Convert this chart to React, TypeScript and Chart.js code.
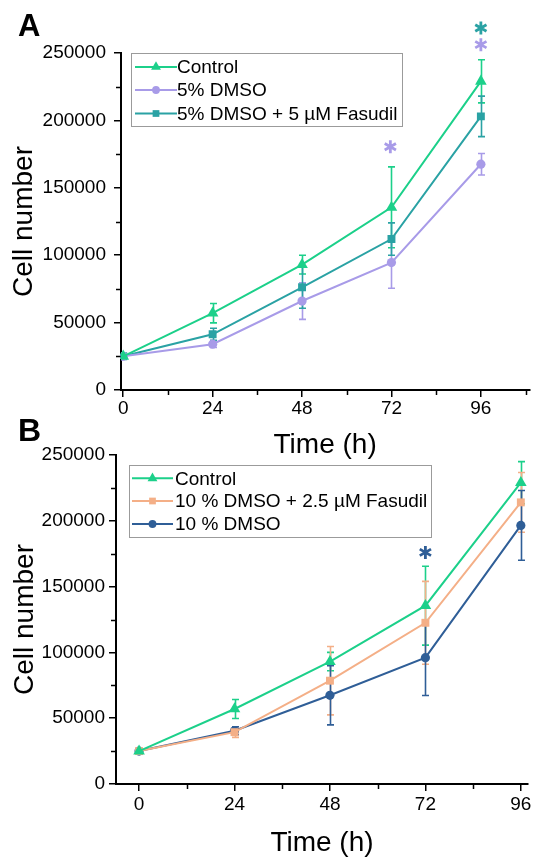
import React, { useEffect, useRef } from 'react';
import { Chart, registerables } from 'chart.js';

Chart.register(...registerables);

const FONT = "'Liberation Sans', Arial, Helvetica, sans-serif";

// ---------- data ----------
const TIMES = [0, 24, 48, 72, 96];
const X_TICKS = [0, 24, 48, 72, 96];
const X_MINOR_TICKS = [12, 36, 60, 84, 108];
const Y_TICKS = [0, 50000, 100000, 150000, 200000, 250000];
const Y_MINOR_TICKS = [25000, 75000, 125000, 175000, 225000];

const CONTROL = [25000, 57000, 93000, 135500, 229000];
const CONTROL_SD = [1500, 7200, 7000, 30000, 16000];
const DMSO5 = [25000, 34000, 66000, 94500, 167500];
const DMSO5_SD = [1000, 2500, 13600, 19000, 8000];
const DMSO5_FAS5 = [25000, 41300, 76200, 112000, 203000];
const DMSO5_FAS5_SD = [1000, 4500, 15500, 12000, 15000];
const DMSO10_FAS25 = [25000, 39400, 78500, 122500, 214000];
const DMSO10_FAS25_SD = [1500, 4000, 26000, 31500, 22700];
const DMSO10 = [25000, 40500, 67400, 96000, 196500];
const DMSO10_SD = [1000, 3000, 22500, 28700, 26500];

const LABELS_A = ['Control', '5% DMSO', '5% DMSO + 5 µM Fasudil'];
const LABELS_B = ['Control', '10 % DMSO + 2.5 µM Fasudil', '10 % DMSO'];

const STARS_A_X = [71.7, 96, 96];
const STARS_A_Y = [180500, 268500, 256200];
const STARS_B_X = [72];
const STARS_B_Y = [176000];

// ---------- styles ----------
const GREEN = '#1CD08A';
const LAVENDER = '#A89BE8';
const TEAL = '#2AA2A4';
const ORANGE = '#F4AF87';
const NAVY = '#2F5E97';

function drawMarker(ctx: CanvasRenderingContext2D, style: string, x: number, y: number, r: number, color: string) {
  ctx.save();
  ctx.fillStyle = color;
  ctx.beginPath();
  if (style === 'circle') {
    ctx.arc(x, y, r, 0, Math.PI * 2);
  } else if (style === 'rect') {
    const s = Math.SQRT1_2 * r;
    ctx.rect(x - s, y - s, 2 * s, 2 * s);
  } else {
    let rad = 0;
    ctx.moveTo(x + Math.sin(rad) * r, y - Math.cos(rad) * r);
    rad += (2 * Math.PI) / 3;
    ctx.lineTo(x + Math.sin(rad) * r, y - Math.cos(rad) * r);
    rad += (2 * Math.PI) / 3;
    ctx.lineTo(x + Math.sin(rad) * r, y - Math.cos(rad) * r);
    ctx.closePath();
  }
  ctx.fill();
  ctx.restore();
}

function drawStar(ctx: CanvasRenderingContext2D, x: number, y: number, r: number, color: string) {
  ctx.save();
  ctx.strokeStyle = color;
  ctx.lineWidth = 2.8;
  ctx.beginPath();
  [90, 30, 150].forEach((deg) => {
    const a = (deg * Math.PI) / 180;
    ctx.moveTo(x - Math.cos(a) * r, y - Math.sin(a) * r);
    ctx.lineTo(x + Math.cos(a) * r, y + Math.sin(a) * r);
  });
  ctx.stroke();
  ctx.restore();
}

interface Series { label: string; data: number[]; sd: number[]; color: string; style: string; radius: number; }
interface Panel {
  letter: string; letterX: number; letterY: number; letterSize: number;
  xMin: number; xMax: number;
  yAxisWidth: number; xAxisHeight: number; padTop: number; padRight: number;
  yTickPad: number; xTickPad: number; yTitlePad: number; xTitlePad: number;
  legend: { x: number; y: number; w: number; h: number; rows: number[]; lineX0: number; lineX1: number; textX: number };
  series: Series[];
  starsX: number[]; starsY: number[]; starColors: string[];
}

function makeDecor(p: Panel) {
  return {
    id: 'decor' + p.letter,
    beforeDatasetsDraw(chart: any) {
      const { ctx } = chart;
      const xs = chart.scales.x;
      const ys = chart.scales.y;
      p.series.forEach((s) => {
        ctx.save();
        ctx.strokeStyle = s.color;
        ctx.lineWidth = 1.6;
        ctx.beginPath();
        TIMES.forEach((t, i) => {
          const px = Math.round(xs.getPixelForValue(t)) + 0.5;
          const top = ys.getPixelForValue(s.data[i] + s.sd[i]);
          const bot = ys.getPixelForValue(s.data[i] - s.sd[i]);
          ctx.moveTo(px, top); ctx.lineTo(px, bot);
          ctx.moveTo(px - 3.5, top); ctx.lineTo(px + 3.5, top);
          ctx.moveTo(px - 3.5, bot); ctx.lineTo(px + 3.5, bot);
        });
        ctx.stroke();
        ctx.restore();
      });
    },
    afterDraw(chart: any) {
      const { ctx, chartArea } = chart;
      const xs = chart.scales.x;
      const ys = chart.scales.y;
      // minor ticks
      ctx.save();
      ctx.strokeStyle = '#000';
      ctx.lineWidth = 1.5;
      ctx.beginPath();
      Y_MINOR_TICKS.forEach((v) => {
        const y = Math.round(ys.getPixelForValue(v)) + 0.5;
        ctx.moveTo(chartArea.left - 1, y); ctx.lineTo(chartArea.left - 5, y);
      });
      X_MINOR_TICKS.forEach((v) => {
        if (v > p.xMax) return;
        const x = Math.round(xs.getPixelForValue(v)) + 0.5;
        ctx.moveTo(x, chartArea.bottom + 1); ctx.lineTo(x, chartArea.bottom + 5);
      });
      ctx.stroke();
      ctx.restore();

      // legend
      const L = p.legend;
      ctx.save();
      ctx.strokeStyle = '#9b9b9b';
      ctx.lineWidth = 1;
      ctx.strokeRect(L.x + 0.5, L.y + 0.5, L.w, L.h);
      ctx.font = `19px ${FONT}`;
      ctx.textBaseline = 'middle';
      ctx.textAlign = 'left';
      chart.data.datasets.forEach((ds: any, i: number) => {
        const s = p.series[i];
        const y = L.rows[i];
        ctx.strokeStyle = s.color;
        ctx.lineWidth = 2;
        ctx.beginPath();
        ctx.moveTo(L.lineX0, y); ctx.lineTo(L.lineX1, y);
        ctx.stroke();
        drawMarker(ctx, s.style, (L.lineX0 + L.lineX1) / 2, y, s.radius * 0.85, s.color);
        ctx.fillStyle = '#000';
        ctx.fillText(ds.label, L.textX, y + 1);
      });
      ctx.restore();

      // significance stars
      p.starsX.forEach((sx, i) => {
        drawStar(ctx, xs.getPixelForValue(sx), ys.getPixelForValue(p.starsY[i]), 6.5, p.starColors[i]);
      });

      // panel letter
      ctx.save();
      ctx.fillStyle = '#000';
      ctx.font = `bold ${p.letterSize}px ${FONT}`;
      ctx.textBaseline = 'alphabetic';
      ctx.fillText(p.letter, p.letterX, p.letterY);
      ctx.restore();
    },
  };
}

function buildChart(canvas: HTMLCanvasElement, p: Panel) {
  return new Chart(canvas, {
    type: 'line',
    data: {
      datasets: p.series.map((s) => ({
        label: s.label,
        data: TIMES.map((t, i) => ({ x: t, y: s.data[i] })),
        borderColor: s.color,
        backgroundColor: s.color,
        borderWidth: 2,
        pointStyle: s.style as any,
        pointRadius: s.radius,
        pointHoverRadius: s.radius,
        pointBackgroundColor: s.color,
        pointBorderColor: s.color,
        pointBorderWidth: 0,
        tension: 0,
        fill: false,
      })),
    },
    options: {
      responsive: false,
      animation: false,
      devicePixelRatio: 1,
      layout: { padding: { top: p.padTop, right: p.padRight, left: 0, bottom: 0 } },
      plugins: { legend: { display: false }, tooltip: { enabled: false } },
      scales: {
        x: {
          type: 'linear',
          min: p.xMin,
          max: p.xMax,
          afterBuildTicks: (axis: any) => { axis.ticks = X_TICKS.map((v) => ({ value: v })); },
          afterFit: (axis: any) => { axis.height = p.xAxisHeight; },
          border: { display: true, color: '#000', width: 2 },
          grid: { display: true, drawOnChartArea: false, drawTicks: true, tickLength: 7, color: '#000', lineWidth: 1.5 },
          ticks: {
            padding: p.xTickPad,
            color: '#000',
            font: { family: FONT, size: 19 },
            maxRotation: 0,
            callback: (v: any) => String(v),
          },
          title: {
            display: true,
            text: 'Time (h)',
            color: '#000',
            font: { family: FONT, size: 28, lineHeight: 1 },
            padding: { top: 0, bottom: p.xTitlePad },
          },
        },
        y: {
          type: 'linear',
          min: 0,
          max: 250000,
          afterBuildTicks: (axis: any) => { axis.ticks = Y_TICKS.map((v) => ({ value: v })); },
          afterFit: (axis: any) => { axis.width = p.yAxisWidth; },
          border: { display: true, color: '#000', width: 2 },
          grid: { display: true, drawOnChartArea: false, drawTicks: true, tickLength: 7, color: '#000', lineWidth: 1.5 },
          ticks: {
            padding: p.yTickPad,
            color: '#000',
            font: { family: FONT, size: 19 },
            callback: (v: any) => String(v),
          },
          title: {
            display: true,
            text: 'Cell number',
            color: '#000',
            font: { family: FONT, size: 28, lineHeight: 1 },
            padding: { top: p.yTitlePad, bottom: 0 },
          },
        },
      },
    } as any,
    plugins: [makeDecor(p)],
  });
}

const PANEL_A: Panel = {
  letter: 'A', letterX: 18, letterY: 36, letterSize: 31,
  xMin: -0.6, xMax: 109,
  yAxisWidth: 121, xAxisHeight: 75, padTop: 53, padRight: 0,
  yTickPad: 8, xTickPad: 0, yTitlePad: 10, xTitlePad: 6,
  legend: { x: 131, y: 53, w: 271, h: 73, rows: [67, 90, 113.5], lineX0: 135, lineX1: 177, textX: 177 },
  series: [
    { label: LABELS_A[0], data: CONTROL, sd: CONTROL_SD, color: GREEN, style: 'triangle', radius: 6.7 },
    { label: LABELS_A[1], data: DMSO5, sd: DMSO5_SD, color: LAVENDER, style: 'circle', radius: 4.6 },
    { label: LABELS_A[2], data: DMSO5_FAS5, sd: DMSO5_FAS5_SD, color: TEAL, style: 'rect', radius: 5.6 },
  ],
  starsX: STARS_A_X, starsY: STARS_A_Y, starColors: [LAVENDER, TEAL, LAVENDER],
};

const PANEL_B: Panel = {
  letter: 'B', letterX: 18, letterY: 31, letterSize: 32,
  xMin: -5.8, xMax: 97.8,
  yAxisWidth: 116, xAxisHeight: 74, padTop: 45, padRight: 8,
  yTickPad: 4, xTickPad: 2, yTitlePad: 11, xTitlePad: 1,
  legend: { x: 129, y: 55, w: 302, h: 72, rows: [68.3, 91, 114], lineX0: 132, lineX1: 173, textX: 175 },
  series: [
    { label: LABELS_B[0], data: CONTROL, sd: CONTROL_SD, color: GREEN, style: 'triangle', radius: 6.7 },
    { label: LABELS_B[1], data: DMSO10_FAS25, sd: DMSO10_FAS25_SD, color: ORANGE, style: 'rect', radius: 5.6 },
    { label: LABELS_B[2], data: DMSO10, sd: DMSO10_SD, color: NAVY, style: 'circle', radius: 4.6 },
  ],
  starsX: STARS_B_X, starsY: STARS_B_Y, starColors: [NAVY],
};

export default function App() {
  const refA = useRef<HTMLCanvasElement | null>(null);
  const refB = useRef<HTMLCanvasElement | null>(null);

  useEffect(() => {
    const a = refA.current ? buildChart(refA.current, PANEL_A) : null;
    const b = refB.current ? buildChart(refB.current, PANEL_B) : null;
    return () => {
      a?.destroy();
      b?.destroy();
    };
  }, []);

  return (
    <div style={{ position: 'fixed', left: 0, top: 0, width: 536, height: 858, overflow: 'hidden', background: '#fff' }}>
      <canvas ref={refA} width={536} height={465} style={{ position: 'absolute', left: 0, top: 0, width: 536, height: 465 }} />
      <canvas ref={refB} width={536} height={448} style={{ position: 'absolute', left: 0, top: 410, width: 536, height: 448 }} />
    </div>
  );
}
